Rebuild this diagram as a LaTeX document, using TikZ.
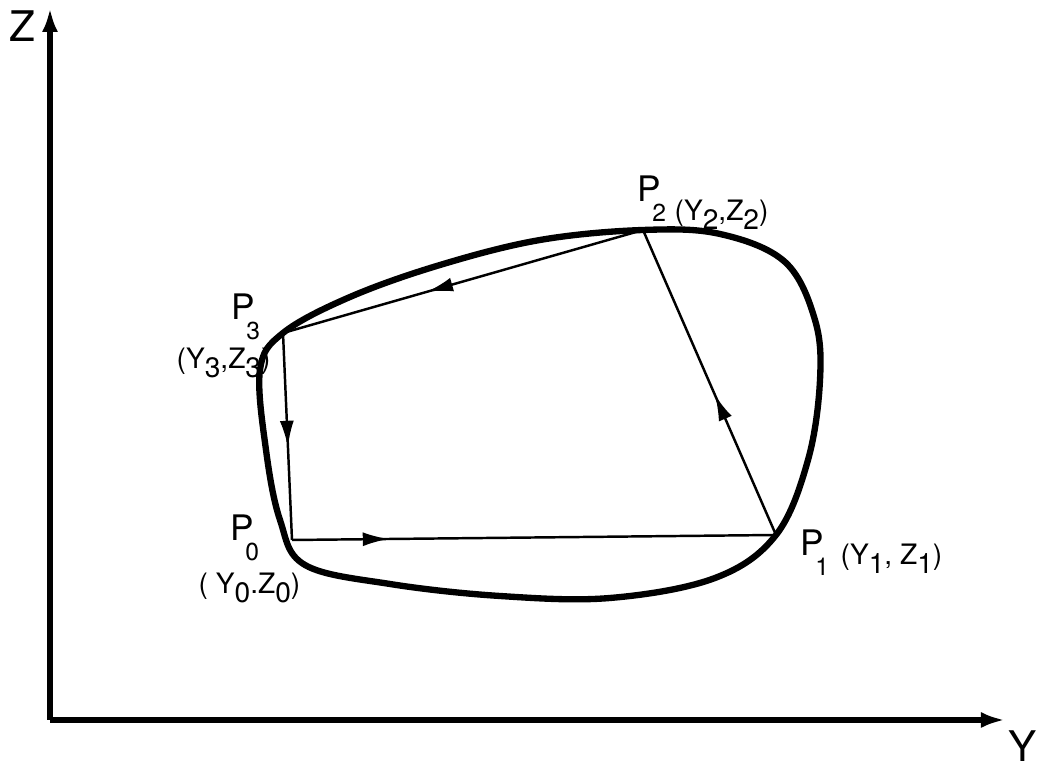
\documentclass[tikz,border=0pt]{standalone}
\usepackage{fontspec}
\setsansfont{TeX Gyre Heros}
\usepackage{tikz}
\usetikzlibrary{arrows.meta,decorations.markings}

% point name with the index set under the letter, as in the lettering
\newcommand{\pname}[1]{P\kern-0.25em\raisebox{-1.12\height}{\scriptsize #1}}
% lowered index in the coordinate pairs
\newcommand{\idx}[1]{\raisebox{-0.55ex}{#1}}

\begin{document}
\begin{tikzpicture}[
  x=0.01cm, y=-0.01cm,
  axis/.style={line width=1.5pt, -{Latex[length=2.4mm,width=1.6mm]}},
  contour/.style={line width=1.8pt},
  chord/.style={line width=0.7pt, postaction={decorate},
    decoration={markings, mark=at position #1 with {\arrow{Latex[length=2.6mm,width=1.4mm]}}}},
  lbl/.style={font=\sffamily, inner sep=0pt, anchor=base west},
  colbl/.style={font=\sffamily\footnotesize, inner sep=0pt, anchor=base west}
]
  \useasboundingbox (0,0) rectangle (1039,768);
  % axes
  \coordinate (origin) at (50,720);
  \coordinate (ztip) at (50,8);
  \coordinate (ytip) at (1005,720);
  \draw[axis] (origin) -- (ztip);
  \draw[axis] (origin) -- (ytip);
  \node[lbl, font=\sffamily\large, anchor=base] (zlab) at (22,42) {Z};
  \node[lbl, font=\sffamily\large, anchor=base] (ylab) at (1023,762) {Y};
  % closed contour
  \draw[contour] plot[smooth cycle, tension=0.6] coordinates {
    (643,230) (720,234) (785,262) (815,320) (820,380) (808,460)
    (776,535) (715,578) (610,598) (500,596) (390,584) (305,565)
    (280,520) (266,450) (260,370) (283,333) (350,297) (440,265) (540,240)};
  % corner points
  \coordinate (p0) at (292,540);
  \coordinate (p1) at (776,535);
  \coordinate (p2) at (643,230);
  \coordinate (p3) at (283,333);
  \draw[chord=0.2] (p0) -- (p1);
  \draw[chord=0.46] (p1) -- (p2);
  \draw[chord=0.6] (p2) -- (p3);
  \draw[chord=0.55] (p3) -- (p0);
  % labels
  \node[lbl] (p0name) at (230,541) {\pname{0}};
  \node[colbl] (p0co) at (198,594) {( Y\idx{0}.Z\idx{0})};
  \node[lbl] (p1name) at (800,556) {\pname{1}};
  \node[colbl] (p1co) at (840,565) {(Y\idx{1}, Z\idx{1})};
  \node[lbl] (p2name) at (637,202) {\pname{2}};
  \node[colbl] (p2co) at (674,221) {(Y\idx{2},Z\idx{2})};
  \node[lbl] (p3name) at (231,320) {\pname{3}};
  \node[colbl] (p3co) at (176,369) {(Y\idx{3},Z\idx{3})};
\end{tikzpicture}
\end{document}
